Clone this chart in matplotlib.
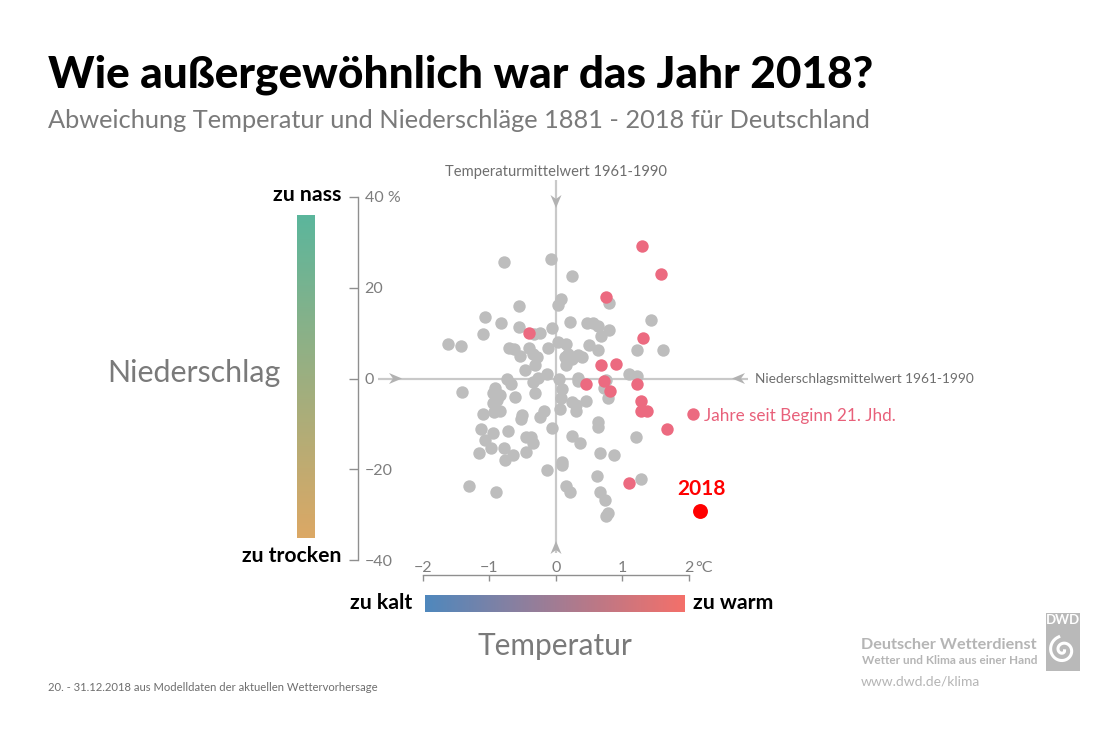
import numpy as np
import matplotlib
matplotlib.use("Agg")
import matplotlib.pyplot as plt
from matplotlib.colors import LinearSegmentedColormap
from matplotlib.patches import Polygon, Rectangle

plt.rcParams['font.family'] = ['Lato', 'DejaVu Sans']

gray_temp = [-0.78,-0.07,0.25,0.08,0.04,0.80,-0.55,-1.07,1.44,-0.82,-0.56,0.21,0.47,0.56,0.64,0.80,0.68,-0.05,-0.23,-0.33,
 -1.10,-1.63,-1.42,-0.71,-0.63,-0.40,-0.12,0.03,0.15,0.50,0.63,1.23,1.61,-0.34,-0.29,-0.54,0.14,0.19,0.24,0.34,
 0.40,0.16,-0.31,-0.47,-0.13,-0.27,-0.34,-0.73,-0.68,0.05,0.33,0.33,1.11,1.23,0.76,0.72,0.79,-1.41,-0.91,-0.95,
 -0.84,-0.89,-0.95,-0.84,-0.93,-1.09,-0.62,-0.32,0.10,0.08,0.24,0.31,0.46,0.30,0.07,-0.17,-0.24,-0.51,-0.52,0.63,
 0.63,-0.05,-1.12,-0.95,-0.72,-1.06,-0.98,-1.16,-0.78,-0.64,-0.76,-0.45,-0.38,-0.35,-0.45,0.25,0.37,1.21,0.66,0.88,
 0.09,0.10,-0.13,0.62,1.28,-1.31,-0.90,0.16,0.21,0.67,0.74,0.79,0.76]
gray_prec = [25.6,26.3,22.5,17.6,16.3,16.7,16.0,13.5,13.0,12.3,11.3,12.4,12.3,12.3,11.5,10.6,9.4,11.2,10.1,9.8,
 9.9,7.5,7.1,6.8,6.5,6.7,6.8,8.1,7.7,7.3,6.2,6.3,6.3,5.5,4.8,5.0,4.8,5.5,4.4,5.1,
 4.7,2.9,2.9,1.8,0.9,0.1,-0.8,-0.1,-1.2,-0.1,0.2,-0.6,1.0,0.5,-0.4,-2.0,-4.2,-2.9,-2.0,-3.2,
 -3.7,-4.8,-5.5,-7.1,-7.4,-7.9,-4.1,-3.2,-2.4,-4.4,-5.1,-5.9,-4.9,-7.1,-6.8,-7.1,-8.5,-8.1,-9.0,-9.6,
 -10.7,-11.0,-11.2,-12.1,-11.5,-13.5,-15.4,-16.5,-15.3,-16.9,-18.0,-12.9,-12.9,-14.3,-16.3,-12.7,-14.2,-12.8,-16.5,-16.9,
 -18.3,-19.1,-20.1,-21.5,-22.1,-23.8,-25.1,-23.8,-25.1,-25.1,-26.8,-29.6,-30.3]
red_temp = [1.30,1.59,0.76,-0.41,1.32,0.68,0.91,0.45,0.73,0.82,1.22,1.28,1.28,1.38,1.68,1.11,2.07]
red_prec = [29.3,23.0,17.9,10.1,9.0,3.0,3.1,-1.3,-0.5,-2.7,-1.3,-4.9,-7.1,-7.1,-11.2,-23.0,-7.9]
year_temp = [2.18]
year_prec = [-29.2]
x_ticks = [-2, -1, 0, 1, 2]
x_labels = ['−2', '−1', '0', '1', '2']
y_ticks = [-40, -20, 0, 20, 40]
y_labels = ['−40', '−20', '0', '20', '40 %']

W, H = 1110, 740
fig = plt.figure(figsize=(W/100, H/100), dpi=100, facecolor='white')

def axpx(x0, y0, x1, y1, **kw):
    return fig.add_axes([x0/W, 1-y1/H, (x1-x0)/W, (y1-y0)/H], **kw)

bg = axpx(0, 0, W, H, zorder=0)
bg.set_xlim(0, W); bg.set_ylim(H, 0); bg.axis('off')

LC = '#c9c9c9'; AC = '#b2b2b2'
bg.plot([378, 748], [378.5, 378.5], color=LC, lw=1.6, zorder=1, solid_capstyle='butt')
bg.plot([556, 556], [180, 553], color=LC, lw=1.6, zorder=1, solid_capstyle='butt')
def arrow(tx, ty, dx, dy):
    l, w, n = 13, 5.5, 4
    px, py = -dy, dx
    bx, by = tx-dx*l, ty-dy*l
    pts = [(tx, ty), (bx+px*w, by+py*w), (tx-dx*(l-n), ty-dy*(l-n)), (bx-px*w, by-py*w)]
    bg.add_patch(Polygon(pts, closed=True, fc=AC, ec='none', zorder=2))
arrow(556, 208, 0, 1)
arrow(556, 541, 0, -1)
arrow(402, 378.5, 1, 0)
arrow(732, 378.5, -1, 0)

ax = axpx(423, 197, 688.5, 560, zorder=3)
ax.patch.set_alpha(0)
ax.set_xlim(-2, 2); ax.set_ylim(-40, 40)
ax.scatter(gray_temp, gray_prec, s=80, color='#bdbdbd', linewidths=0, clip_on=False, zorder=3)
ax.scatter(red_temp, red_prec, s=80, color='#ec6a80', linewidths=0, clip_on=False, zorder=4)
ax.scatter(year_temp, year_prec, s=115, color='#ff0000', linewidths=0, clip_on=False, zorder=5)
for s in ['top', 'right']:
    ax.spines[s].set_visible(False)
SC = '#8f8f8f'
ax.spines['left'].set_position(('outward', 46.5))
ax.spines['bottom'].set_position(('outward', 11))
ax.spines['left'].set_color(SC); ax.spines['bottom'].set_color(SC)
ax.spines['left'].set_linewidth(1.0); ax.spines['bottom'].set_linewidth(1.0)
ax.set_xticks(x_ticks, x_labels)
ax.set_yticks(y_ticks, y_labels)
ax.tick_params(axis='x', direction='out', length=4, width=1.0, color=SC, labelcolor='#7d7d7d', labelsize=11.5, pad=-14)
ax.tick_params(axis='y', direction='out', length=6.5, width=1.0, color=SC, labelcolor='#7d7d7d', labelsize=11.5, pad=-11)
for t in ax.get_yticklabels():
    t.set_ha('left')

vcm = LinearSegmentedColormap.from_list('v', ['#5bb69c', '#dca865'])
hcm = LinearSegmentedColormap.from_list('h', ['#4f88bd', '#f4706a'])
g = np.linspace(0, 1, 256)
a1 = axpx(297, 215, 315, 538, zorder=1); a1.imshow(g[:, None], cmap=vcm, aspect='auto'); a1.axis('off')
a2 = axpx(425, 595, 685, 612, zorder=1); a2.imshow(g[None, :], cmap=hcm, aspect='auto'); a2.axis('off')

def T(x, y, s, **kw):
    kw.setdefault('va', 'center')
    return bg.text(x, y, s, **kw)

T(48, 75, 'Wie außergewöhnlich war das Jahr 2018?', fontsize=31.8, fontweight='black', color='black')
T(48, 120, 'Abweichung Temperatur und Niederschläge 1881 - 2018 für Deutschland', fontsize=18.25, color='#7a7a7a')
T(556, 172, 'Temperaturmittelwert 1961-1990', fontsize=10.6, color='#6e6e6e', ha='center')
T(755, 379, 'Niederschlagsmittelwert 1961-1990', fontsize=9.85, color='#6e6e6e')
T(704, 416, 'Jahre seit Beginn 21. Jhd.', fontsize=12.3, color='#e8607a')
T(702, 489, '2018', fontsize=15, fontweight='bold', color='#ff0000', ha='center')
T(341, 195, 'zu nass', fontsize=15.3, fontweight='bold', color='black', ha='right')
T(341, 556, 'zu trocken', fontsize=15.2, fontweight='bold', color='black', ha='right')
T(412, 603, 'zu kalt', fontsize=15.3, fontweight='bold', color='black', ha='right')
T(693, 603, 'zu warm', fontsize=15.3, fontweight='bold', color='black')
T(281, 373, 'Niederschlag', fontsize=21.9, color='#7a7a7a', ha='right')
T(555, 645.5, 'Temperatur', fontsize=21.5, color='#7a7a7a', ha='center')
T(695, 568, '°C', fontsize=11.5, color='#7d7d7d')
T(48, 687.5, '20. - 31.12.2018 aus Modelldaten der aktuellen Wettervorhersage', fontsize=8.1, color='#6e6e6e')
T(1037, 645, 'Deutscher Wetterdienst', fontsize=11.7, fontweight='bold', color='#b5b5b5', ha='right')
T(1037, 661, 'Wetter und Klima aus einer Hand', fontsize=8.5, fontweight='bold', color='#b5b5b5', ha='right')
T(861, 682, 'www.dwd.de/klima', fontsize=10, color='#b5b5b5')

bg.add_patch(Rectangle((1046, 613), 34, 58, fc='#b9b9b9', ec='none'))
T(1063, 620, 'DWD', fontsize=9.5, fontweight='bold', color='white', ha='center')
th = np.linspace(0.5, 3.4*np.pi, 200)
r = 1.2 + 1.25*th
bg.plot(1063+r*np.cos(th)*0.95, 650+r*np.sin(th)*0.95, color='white', lw=2.2)

fig.savefig('out.png', dpi=100, facecolor='white')
